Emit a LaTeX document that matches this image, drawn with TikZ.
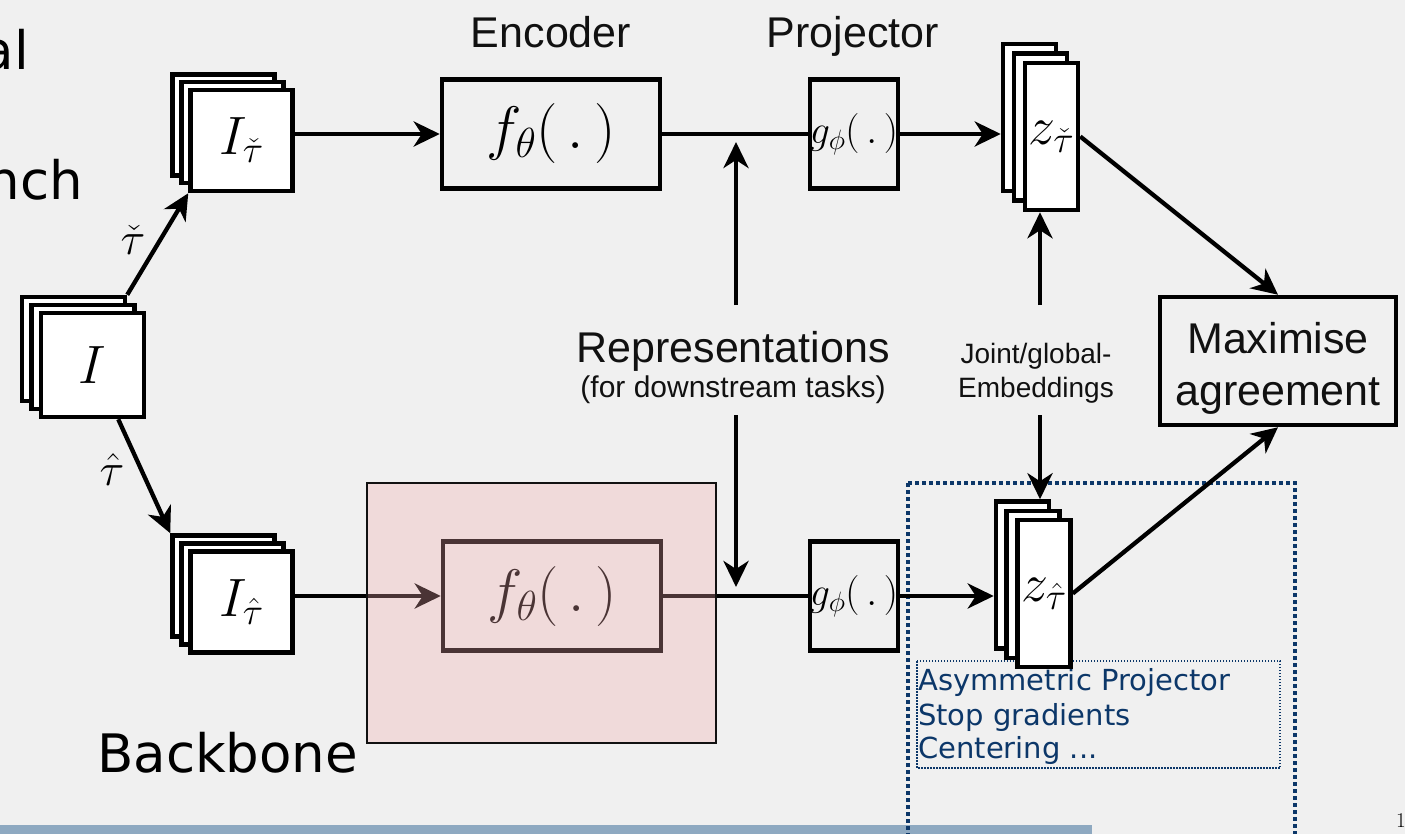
\RequirePackage{fix-cm}
\documentclass[tikz,border=0pt]{standalone}
\usepackage{fontspec}
\usetikzlibrary{arrows.meta}
\newfontfamily\labelfont{Liberation Sans}
\newfontfamily\slidefont{DejaVu Sans}
\definecolor{bggray}{RGB}{240,240,240}
\definecolor{navy}{RGB}{12,55,105}
\definecolor{backbonepink}{RGB}{242,171,172}
\definecolor{barblue}{RGB}{142,169,193}
\definecolor{ink}{RGB}{17,17,17}

\begin{document}
\begin{tikzpicture}[x=1pt,y=-1pt,
  sheet/.style={draw, line width=4.5pt, fill=white, inner sep=0pt},
  imgsheet/.style={sheet, minimum width=102pt, minimum height=101pt},
  zsheet/.style={sheet, minimum width=53pt, minimum height=147pt},
  block/.style={draw, line width=4.5pt, inner sep=0pt},
  encblock/.style={block, minimum width=218pt, minimum height=109pt},
  projblock/.style={block, minimum width=88pt, minimum height=109pt},
  arr/.style={line width=4.3pt, -{Stealth[length=26pt,width=25pt,inset=8pt]}},
  link/.style={line width=4.3pt},
  bigmath/.style={font=\fontsize{54}{60}\selectfont},
  encmath/.style={font=\fontsize{60}{66}\selectfont},
  projmath/.style={font=\fontsize{40}{46}\selectfont},
  arrmath/.style={font=\fontsize{46}{50}\selectfont, inner sep=0pt},
  head/.style={font=\labelfont\fontsize{43}{52}\selectfont, text=ink, inner sep=0pt, anchor=base},
  small/.style={font=\labelfont\fontsize{29}{34}\selectfont, text=ink, inner sep=0pt, anchor=base},
  slide/.style={font=\slidefont\fontsize{53}{60}\selectfont, inner sep=0pt},
  trick/.style={font=\slidefont\fontsize{29}{34}\selectfont, text=navy, inner sep=0pt, anchor=base west}
]
\useasboundingbox (0,0) rectangle (1405,834);
\fill[bggray] (0,0) rectangle (1405,834);

% slide text partly outside the frame
\node[slide, anchor=base east] (word1) at (29,70) {al};
\node[slide, anchor=base east] (word2) at (83,200) {nch};
\node[slide, anchor=base west] (backbone) at (97,772) {Backbone};
\node[font=\fontsize{21}{24}\selectfont, inner sep=0pt, anchor=base west] (pagenum) at (1396,827) {1};
\fill[barblue] (0,825) rectangle (1092,834);

% regularisation tricks around the lower projection
\draw[navy, line width=4pt, dash pattern=on 4pt off 3pt] (908,483) -- (1295,483) -- (1295,850) (908,483) -- (908,850);
\draw[navy, line width=1.5pt, dash pattern=on 1.5pt off 1.5pt] (917,661) rectangle (1280,768);
\node[trick] (trick1) at (918,690) {Asymmetric Projector};
\node[trick] (trick2) at (918,725) {Stop gradients};
\node[trick] (trick3) at (918,758) {Centering ...};

% input image stack
\node[sheet, minimum width=103pt, minimum height=104pt] (Ib) at (73.5,349) {};
\node[sheet, minimum width=103pt, minimum height=104pt] (Im) at (83,357) {};
\node[sheet, minimum width=103pt, minimum height=104pt, bigmath] (If) at (92.5,365) {$I$};

% augmented views
\node[imgsheet] (Tb) at (223.5,125) {};
\node[imgsheet] (Tm) at (232.5,132.5) {};
\node[imgsheet, bigmath] (Tf) at (241.5,140.5) {$I_{\check\tau}$};
\node[imgsheet] (Bb) at (223.5,586) {};
\node[imgsheet] (Bm) at (232.5,594) {};
\node[imgsheet, bigmath] (Bf) at (241.5,602) {$I_{\hat\tau}$};

% encoders and projectors
\node[encblock, encmath] (encT) at (551,134) {$f_\theta(\,.\,)$};
\node[projblock, projmath] (projT) at (854,134) {$g_\phi(\,.\,)$};
\node[encblock, encmath] (encB) at (552,596) {$f_\theta(\,.\,)$};
\node[projblock, projmath] (projB) at (854,596) {$g_\phi(\,.\,)$};

% embedding stacks
\node[zsheet] (ZTb) at (1029.5,117.5) {};
\node[zsheet] (ZTm) at (1040.5,127) {};
\node[zsheet, bigmath] (ZTf) at (1051.5,136.5) {$z_{\check\tau}$};
\node[zsheet] (ZBb) at (1022.5,575) {};
\node[zsheet] (ZBm) at (1033,584.5) {};
\node[zsheet, bigmath] (ZBf) at (1044,593.5) {$z_{\hat\tau}$};

% objective
\node[block, minimum width=236pt, minimum height=128pt] (agree) at (1278,361) {};
\node[head] (agree1) at (1278,353) {Maximise};
\node[head] (agree2) at (1278,405) {agreement};

% headings and annotations
\node[head] (enclabel) at (551,48) {Encoder};
\node[head] (projlabel) at (853,48) {Projector};
\node[head] (rep) at (733,362) {Representations};
\node[small, font=\labelfont\fontsize{30}{34}\selectfont] (repsub) at (733,397) {(for downstream tasks)};
\node[small, font=\labelfont\fontsize{28}{34}\selectfont] (joint1) at (1036,363) {Joint/global-};
\node[small, font=\labelfont\fontsize{28}{34}\selectfont] (joint2) at (1036,397) {Embeddings};
\node[arrmath] (tcheck) at (133,240) {$\check\tau$};
\node[arrmath] (that) at (112,470) {$\hat\tau$};

% connectors
\draw[arr] (Ib.north east) -- (Tf.south west);
\draw[arr] ([xshift=-28pt]If.south east) -- (Bb.north west);
\draw[arr] (Tf.east |- encT.west) -- (encT.west);
\draw[link] (encT.east) -- (projT.west);
\draw[arr] (projT.east) -- (ZTb.west |- projT.east);
\draw[arr] (Bf.east |- encB.west) -- (encB.west);
\draw[link] (encB.east) -- (projB.west);
\draw[arr] (projB.east) -- (ZBb.west |- projB.east);

\coordinate (repTop) at (736,305);
\coordinate (repBot) at (736,415);
\draw[arr, shorten >=8pt] (repTop) -- (repTop |- encT.east);
\draw[arr, shorten >=9pt] (repBot) -- (repBot |- encB.east);

\coordinate (jointTop) at (1040,305);
\coordinate (jointBot) at (1040,415);
\draw[arr] (jointTop) -- (jointTop |- ZTf.south);
\draw[arr] (jointBot) -- (jointBot |- ZBb.north);

\draw[arr] (ZTf.east) -- (agree.north);
\draw[arr] (ZBf.east) -- (agree.south);

% translucent backbone highlight over the lower encoder
\fill[backbonepink, fill opacity=0.31] (367,483) rectangle (716,743);
\draw[ink, line width=1.3pt] (367,483) rectangle (716,743);
\end{tikzpicture}
\end{document}
